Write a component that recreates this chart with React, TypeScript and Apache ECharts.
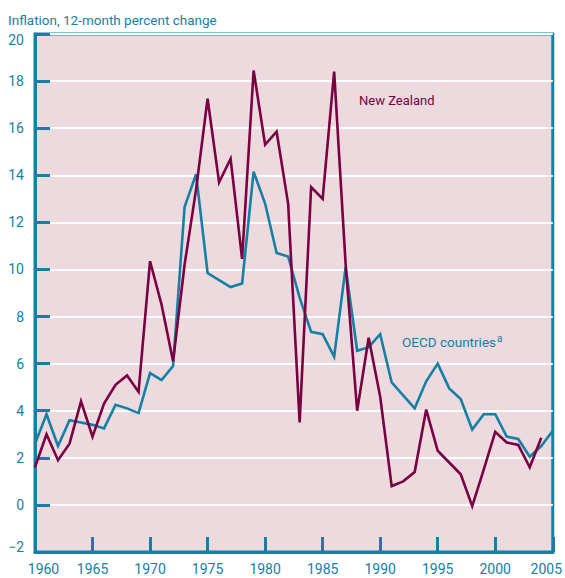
import React, { useEffect, useRef } from "react";
import * as echarts from "echarts";

const years: number[] = [];
for (let y = 1960; y <= 2005; y++) years.push(y);

const nzValues = [
  1.6, 3.0, 1.9, 2.6, 4.4, 2.9, 4.3, 5.1, 5.5, 4.8,
  10.35, 8.5, 6.1, 10.2, 13.4, 17.25, 13.7, 14.7, 10.45, 18.45,
  15.3, 15.85, 12.8, 3.5, 13.5, 13.0, 18.4, 10.2, 4.0, 7.1,
  4.6, 0.8, 1.0, 1.4, 4.05, 2.3, 1.8, 1.3, -0.05, 1.5,
  3.1, 2.65, 2.55, 1.6, 2.85,
];

const oecdValues = [
  2.6, 3.85, 2.5, 3.6, 3.5, 3.4, 3.25, 4.25, 4.1, 3.9,
  5.6, 5.3, 5.9, 12.65, 14.05, 9.85, 9.55, 9.25, 9.4, 14.15,
  12.8, 10.7, 10.55, 8.8, 7.35, 7.25, 6.3, 10.1, 6.55, 6.7,
  7.25, 5.2, 4.65, 4.1, 5.25, 6.0, 4.95, 4.5, 3.2, 3.85,
  3.85, 2.9, 2.8, 2.05, 2.5, 3.15,
];

const titleText = "Inflation, 12-month percent change";
const nzLabel = "New Zealand";
const oecdLabel = "OECD countries";

const TEAL = "#1580a4";
const MAROON = "#7a0041";
const PINK = "#ecdadf";
const FONT = "Roboto, 'Liberation Sans', sans-serif";
const TICK_FS = 14;

export default function App() {
  const ref = useRef<HTMLDivElement>(null);
  useEffect(() => {
    if (!ref.current) return;
    const chart = echarts.init(ref.current, undefined, { renderer: "svg" });
    const nzData = nzValues.map((v, i) => [years[i], v]);
    const oecdData = oecdValues.map((v, i) => [years[i], v]);
    chart.setOption({
      animation: false,
      backgroundColor: "#ffffff",
      textStyle: { fontFamily: FONT },
      title: {
        text: titleText,
        left: 3,
        top: 8,
        textStyle: { color: TEAL, fontSize: 13.5, fontWeight: "normal", fontFamily: FONT },
      },
      grid: {
        left: 35,
        right: 11,
        top: 34,
        bottom: 26,
        show: true,
        backgroundColor: PINK,
        borderColor: TEAL,
        borderWidth: 3,
      },
      xAxis: {
        type: "value",
        min: 1960,
        max: 2005,
        interval: 5,
        axisLine: { show: true, onZero: false, lineStyle: { color: TEAL, width: 3 } },
        axisTick: { show: true, inside: true, length: 15, lineStyle: { color: TEAL, width: 3 } },
        splitLine: { show: false },
        axisLabel: {
          color: TEAL,
          fontSize: TICK_FS,
          fontFamily: FONT,
          margin: 10,
          formatter: (v: number) => {
            if (v === 1960) return "{first|" + v + "}";
            if (v === 2005) return "{last|" + v + "}";
            return String(v);
          },
          rich: {
            first: { padding: [0, 0, 0, 17], color: TEAL, fontSize: TICK_FS, fontFamily: FONT },
            last: { padding: [0, 13, 0, 0], color: TEAL, fontSize: TICK_FS, fontFamily: FONT },
          },
        },
      },
      yAxis: {
        type: "value",
        min: -2,
        max: 20,
        interval: 2,
        axisLine: { show: true, onZero: false, lineStyle: { color: TEAL, width: 3 } },
        axisTick: { show: true, inside: true, length: 15, lineStyle: { color: TEAL, width: 3 } },
        splitLine: { show: true, lineStyle: { color: "#ffffff", width: 2 } },
        axisLabel: {
          color: TEAL,
          fontSize: TICK_FS,
          fontFamily: FONT,
          margin: 11,
          formatter: (v: number) => {
            const s = String(v).replace("-", "\u2212");
            if (v === 20) return "{top|" + s + "}";
            if (v === -2) return "{bot|" + s + "}";
            return s;
          },
          rich: {
            top: { padding: [12, 0, 0, 0], color: TEAL, fontSize: TICK_FS, fontFamily: FONT },
            bot: { padding: [0, 0, 10, 0], color: TEAL, fontSize: TICK_FS, fontFamily: FONT },
          },
        },
      },
      graphic: [
        {
          type: "text",
          left: 359,
          top: 94,
          style: { text: nzLabel, fill: MAROON, fontSize: 13, fontFamily: FONT },
        },
        {
          type: "text",
          left: 402,
          top: 333,
          style: {
            text: "{m|" + oecdLabel + "}{s|a}",
            rich: {
              m: { fill: TEAL, fontSize: 13.5, fontFamily: FONT },
              s: { fill: TEAL, fontSize: 10, fontFamily: FONT, padding: [0, 0, 8, 1] },
            },
          },
        },
      ],
      series: [
        {
          name: oecdLabel,
          type: "line",
          data: oecdData,
          showSymbol: false,
          symbol: "none",
          lineStyle: { color: TEAL, width: 2.6, join: "miter" },
        },
        {
          name: nzLabel,
          type: "line",
          data: nzData,
          showSymbol: false,
          symbol: "none",
          lineStyle: { color: MAROON, width: 2.6, join: "miter" },
        },
      ],
    });
    return () => chart.dispose();
  }, []);
  return (
    <div
      ref={ref}
      style={{ position: "fixed", left: 0, top: 0, width: 565, height: 578 }}
    />
  );
}
